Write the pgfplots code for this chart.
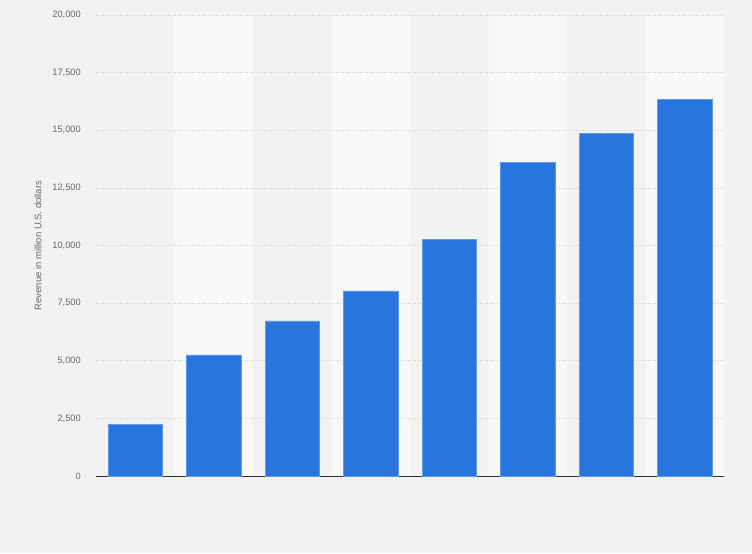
\documentclass[border=0pt]{standalone}
\usepackage{fontspec}
\setmainfont{Liberation Sans}
\usepackage{pgfplots}
\pgfplotsset{compat=1.18}
\definecolor{bgc}{HTML}{F2F2F2}
\definecolor{bandc}{HTML}{F8F8F8}
\definecolor{barc}{HTML}{2876DD}
\definecolor{baredge}{HTML}{5E9AE8}
\definecolor{gridc}{HTML}{D0D0D0}
\definecolor{txt}{HTML}{666666}
\begin{document}
\begin{tikzpicture}
\begin{axis}[
  set layers, clip=false,
  at={(0pt,0pt)}, anchor=south west,
  scale only axis, width=628pt, height=461pt,
  xmin=-0.5, xmax=7.5, ymin=0, ymax=20000,
  axis x line*=bottom, axis y line*=left,
  y axis line style={draw=none},
  x axis line style={-, draw=black!80, line width=0.9pt},
  xtick=\empty,
  ytick={0,2500,...,20000},
  major tick length=0pt,
  ymajorgrids,
  major grid style={dotted, draw=gridc, line width=0.7pt},
  scaled y ticks=false,
  /pgf/number format/.cd, 1000 sep={,}, assume math mode=true, /pgfplots/.cd,
  yticklabel style={font=\fontsize{9.3}{10}\selectfont, text=txt, anchor=east, inner sep=0pt, xshift=-15pt},
  ylabel={Revenue in million U.S. dollars},
  ylabel style={at={(axis description cs:0,0.5)}, anchor=center, yshift=58pt, font=\fontsize{9.5}{10}\selectfont, text=txt},
]
\begin{pgfonlayer}{axis background}
\fill[bgc] ([xshift=-96pt,yshift=-77pt]rel axis cs:0,0) rectangle ([xshift=28pt,yshift=15pt]rel axis cs:1,1);
\end{pgfonlayer}
\addplot[ybar, bar width=1, bar shift=0, fill=bandc, draw=none, on layer=axis background]
  coordinates {(1,20000) (3,20000) (5,20000) (7,20000)};
\addplot[ybar, bar width=0.69, bar shift=0, fill=barc, draw=baredge, line width=0.5pt]
  coordinates {(0,2230) (1,5250) (2,6725) (3,8030) (4,10275) (5,13610) (6,14880) (7,16345)};
\end{axis}
\end{tikzpicture}
\end{document}
